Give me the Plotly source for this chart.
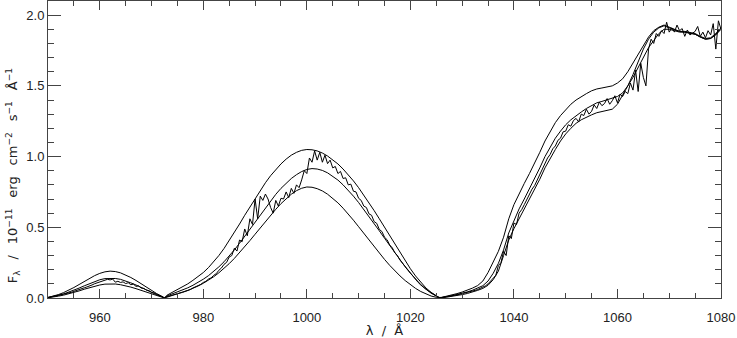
import plotly.graph_objects as go

# Model curves sampled every 1 A, in three windows between the Lyman lines.
# Window A: 950..972 (then zero at 972.5), B: 973..1025 (zero at 1025.7), C: 1026..1080
upper_a = [0.004, 0.012, 0.024, 0.038, 0.055, 0.074, 0.095, 0.117, 0.138, 0.158,
           0.174, 0.185, 0.190, 0.187, 0.178, 0.164, 0.145, 0.124, 0.100, 0.076,
           0.053, 0.031, 0.012]
upper_b = [0.020, 0.040, 0.058, 0.078, 0.100, 0.125, 0.152, 0.180,
           0.215, 0.255, 0.300, 0.350, 0.405, 0.463, 0.523, 0.585, 0.645, 0.705,
           0.762, 0.815, 0.865, 0.910, 0.948, 0.982, 1.010, 1.030, 1.044, 1.050,
           1.048, 1.040, 1.025, 1.004, 0.978, 0.948, 0.912, 0.872, 0.828, 0.780,
           0.728, 0.674, 0.618, 0.560, 0.500, 0.440, 0.380, 0.320, 0.262, 0.207,
           0.156, 0.110, 0.071, 0.040, 0.016]
upper_c = [0.004, 0.012, 0.021, 0.031, 0.042, 0.055, 0.070, 0.088, 0.12, 0.18,
           0.25, 0.33, 0.43, 0.56, 0.66, 0.74, 0.81, 0.88, 0.95, 1.03,
           1.11, 1.18, 1.24, 1.29, 1.33, 1.37, 1.40, 1.425, 1.445, 1.465,
           1.478, 1.485, 1.49, 1.50, 1.52, 1.55, 1.60, 1.66, 1.73, 1.79,
           1.845, 1.89, 1.915, 1.93, 1.915, 1.895, 1.885, 1.885, 1.88, 1.87,
           1.85, 1.835, 1.84, 1.87, 1.91]

middle_a = [0.003, 0.009, 0.018, 0.028, 0.041, 0.055, 0.070, 0.086, 0.102, 0.117,
            0.129, 0.137, 0.140, 0.138, 0.132, 0.121, 0.107, 0.092, 0.074, 0.056,
            0.039, 0.023, 0.009]
middle_b = [0.015, 0.028, 0.042, 0.056, 0.072, 0.090, 0.110, 0.133,
            0.158, 0.187, 0.220, 0.256, 0.296, 0.340, 0.387, 0.436, 0.487, 0.538,
            0.590, 0.640, 0.688, 0.733, 0.775, 0.812, 0.845, 0.872, 0.894, 0.909,
            0.915, 0.912, 0.902, 0.885, 0.862, 0.834, 0.800, 0.762, 0.720, 0.675,
            0.627, 0.578, 0.527, 0.475, 0.423, 0.370, 0.318, 0.268, 0.220, 0.175,
            0.133, 0.095, 0.062, 0.035, 0.014]
middle_c = [0.003, 0.009, 0.016, 0.024, 0.033, 0.043, 0.055, 0.069, 0.087, 0.12,
            0.175, 0.245, 0.34, 0.46, 0.55, 0.63, 0.70, 0.77, 0.84, 0.92,
            1.00, 1.07, 1.13, 1.18, 1.225, 1.26, 1.29, 1.315, 1.34, 1.36,
            1.38, 1.39, 1.40, 1.41, 1.425, 1.45, 1.50, 1.58, 1.67, 1.76,
            1.83, 1.88, 1.91, 1.925, 1.91, 1.895, 1.885, 1.88, 1.875, 1.865,
            1.845, 1.83, 1.835, 1.865, 1.905]

lower_a = [0.002, 0.006, 0.013, 0.020, 0.029, 0.039, 0.050, 0.062, 0.073, 0.084,
           0.092, 0.098, 0.100, 0.099, 0.094, 0.087, 0.077, 0.066, 0.053, 0.040,
           0.028, 0.016, 0.006]
lower_b = [0.010, 0.019, 0.029, 0.040, 0.053, 0.068, 0.085, 0.104,
           0.126, 0.150, 0.178, 0.209, 0.243, 0.280, 0.320, 0.362, 0.406, 0.451,
           0.496, 0.541, 0.585, 0.627, 0.667, 0.703, 0.734, 0.759, 0.776, 0.785,
           0.783, 0.773, 0.757, 0.734, 0.706, 0.673, 0.635, 0.594, 0.550, 0.504,
           0.457, 0.410, 0.363, 0.317, 0.273, 0.231, 0.192, 0.156, 0.123, 0.094,
           0.068, 0.046, 0.028, 0.014, 0.005]
lower_c = [0.002, 0.006, 0.011, 0.017, 0.024, 0.032, 0.042, 0.054, 0.068, 0.09,
           0.13, 0.19, 0.30, 0.41, 0.49, 0.56, 0.62, 0.69, 0.76, 0.84,
           0.92, 0.99, 1.05, 1.11, 1.16, 1.20, 1.235, 1.26, 1.28, 1.295,
           1.31, 1.32, 1.33, 1.335, 1.37, 1.43, 1.50, 1.56, 1.63, 1.70,
           1.77, 1.82, 1.87, 1.90, 1.90, 1.89, 1.88, 1.88, 1.875, 1.865,
           1.845, 1.83, 1.835, 1.86, 1.90]

# Observed spectrum, every 0.5 A; windows start at 950.0, 973.0 and 1026.0
obs_a = [0.004, 0.008, 0.010, 0.014, 0.017, 0.022, 0.026, 0.030, 0.036, 0.040,
         0.047, 0.052, 0.060, 0.064, 0.072, 0.078, 0.088, 0.092, 0.101, 0.108,
         0.114, 0.121, 0.126, 0.132, 0.128, 0.134, 0.112, 0.118, 0.110, 0.114,
         0.102, 0.108, 0.094, 0.098, 0.082, 0.086, 0.070, 0.068, 0.056, 0.052,
         0.040, 0.036, 0.026, 0.018, 0.010, 0.002]
obs_b = [0.006, 0.012, 0.018, 0.022, 0.030, 0.034, 0.042, 0.047, 0.056, 0.060,
         0.071, 0.078, 0.090, 0.096, 0.110, 0.118, 0.134, 0.142, 0.160, 0.172,
         0.196, 0.212, 0.238, 0.252, 0.290, 0.300, 0.352, 0.332, 0.410, 0.398,
         0.488, 0.440, 0.560, 0.520, 0.700, 0.560, 0.720, 0.690, 0.735, 0.700,
         0.640, 0.600, 0.690, 0.650, 0.705, 0.700, 0.750, 0.710, 0.775, 0.740,
         0.800, 0.780, 0.835, 0.900, 0.880, 0.990, 0.960, 1.040, 0.975, 1.030,
         0.960, 1.010, 0.950, 0.975, 0.920, 0.930, 0.880, 0.895, 0.845, 0.850,
         0.800, 0.805, 0.755, 0.750, 0.705, 0.690, 0.650, 0.640, 0.595, 0.585,
         0.540, 0.528, 0.485, 0.470, 0.430, 0.412, 0.375, 0.355, 0.320, 0.300,
         0.268, 0.245, 0.218, 0.195, 0.172, 0.150, 0.130, 0.110, 0.092, 0.076,
         0.060, 0.046, 0.034, 0.024, 0.012, 0.004]
obs_c = [0.004, 0.008, 0.010, 0.013, 0.016, 0.019, 0.022, 0.026, 0.030, 0.034,
         0.038, 0.043, 0.048, 0.054, 0.060, 0.068, 0.076, 0.086, 0.100, 0.118,
         0.140, 0.160, 0.230, 0.250, 0.330, 0.300, 0.440, 0.420, 0.530, 0.520,
         0.600, 0.625, 0.660, 0.700, 0.730, 0.770, 0.795, 0.835, 0.870, 0.905,
         0.945, 0.990, 1.015, 1.055, 1.075, 1.115, 1.130, 1.175, 1.180, 1.225,
         1.215, 1.255, 1.270, 1.245, 1.300, 1.290, 1.335, 1.300, 1.320, 1.365,
         1.340, 1.385, 1.360, 1.375, 1.410, 1.370, 1.395, 1.430, 1.380, 1.440,
         1.425, 1.460, 1.445, 1.520, 1.470, 1.610, 1.460, 1.660, 1.560, 1.500,
         1.760, 1.830, 1.800, 1.870, 1.850, 1.890, 1.870, 1.950, 1.880, 1.910,
         1.880, 1.930, 1.890, 1.905, 1.850, 1.895, 1.860, 1.870, 1.885, 1.920,
         1.850, 1.880, 1.840, 1.890, 1.860, 1.940, 1.760, 1.960, 1.900]

line_zeros = [972.5, 1025.7]  # flux goes to zero at Ly-gamma and Ly-beta


def model_curve(a, b, c):
    wave = list(range(950, 973)) + [line_zeros[0]] + list(range(973, 1026)) + [line_zeros[1]] + list(range(1026, 1081))
    flux = a + [0.0] + b + [0.0] + c
    assert len(wave) == len(flux)
    return wave, flux


def obs_curve(a, b, c):
    wave = ([950 + 0.5 * i for i in range(len(a))] + [973 + 0.5 * i for i in range(len(b))]
            + [1026 + 0.5 * i for i in range(len(c))])
    return wave, a + b + c


fig = go.Figure()
for seg in [(upper_a, upper_b, upper_c), (middle_a, middle_b, middle_c), (lower_a, lower_b, lower_c)]:
    w, f = model_curve(*seg)
    fig.add_trace(go.Scatter(x=w, y=f, mode='lines', line=dict(color='black', width=1)))

w, f = obs_curve(obs_a, obs_b, obs_c)
fig.add_trace(go.Scatter(x=w, y=f, mode='lines', line=dict(color='black', width=1)))

axis_col = '#444444'
sp = '\u00a0'
gap = sp * 2 + '\u2009'
fig.update_layout(
    width=737, height=338,
    margin=dict(l=48, r=16, t=1, b=40),
    plot_bgcolor='white', paper_bgcolor='white',
    showlegend=False,
    font=dict(family='Liberation Sans, Arial, sans-serif', size=13, color='#222222'),
)
fig.update_xaxes(
    range=[950, 1080], showline=True, linecolor=axis_col, linewidth=1, mirror='allticks',
    ticks='inside', ticklen=9, tickcolor=axis_col, tick0=0, dtick=20, ticklabelstandoff=7,
    minor=dict(ticks='inside', ticklen=5, tickcolor=axis_col, tick0=0, dtick=5, showgrid=False),
    showgrid=False, zeroline=False,
    title=dict(text=f'λ{sp}{sp}/{sp}{sp}Å', font=dict(family='DejaVu Sans', size=13), standoff=2),
)
fig.update_yaxes(
    range=[0, 2.1], showline=True, linecolor=axis_col, linewidth=1, mirror='allticks',
    ticks='inside', ticklen=13, tickcolor=axis_col, tick0=0, dtick=0.5, tickformat='.1f',
    minor=dict(ticks='inside', ticklen=6, tickcolor=axis_col, tick0=0, dtick=0.1, showgrid=False),
    showgrid=False, zeroline=False,
)
# y title placed as an annotation so it can sit a little below the plot centre
fig.add_annotation(
    text=(f'F<sub>λ</sub>{gap}/{gap}10<sup>−11</sup>{gap}erg{gap}cm<sup>−2</sup>'
          f'{gap}s<sup>−1</sup>{gap}Å<sup>−1</sup>'),
    textangle=-90, xref='paper', yref='paper', x=-0.052, y=0.41,
    xanchor='center', yanchor='middle', showarrow=False,
    font=dict(family='DejaVu Sans', size=13, color='#222222'),
)

fig.write_html("out.html", config={'displayModeBar': False},
               post_script="document.body.style.margin = '0px';")
